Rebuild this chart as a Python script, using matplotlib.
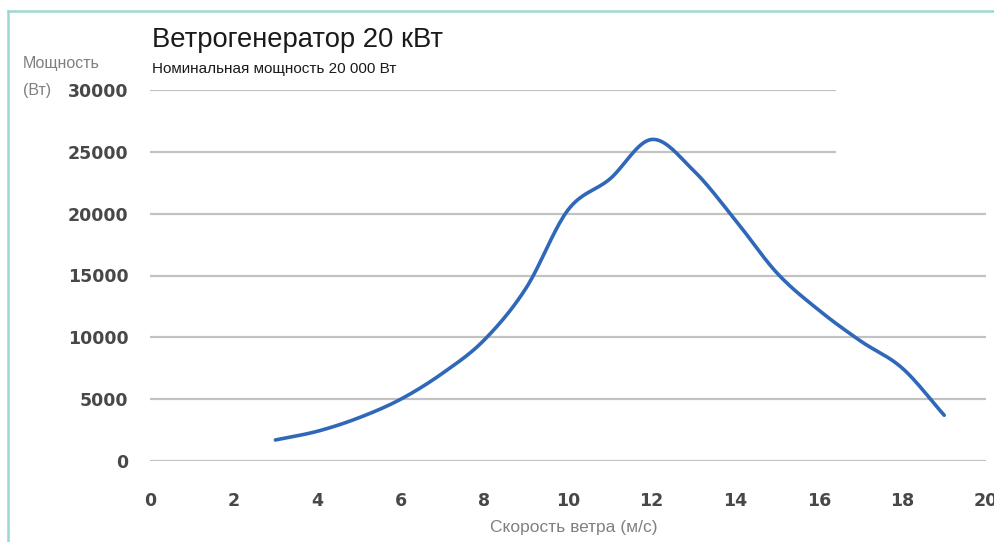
import numpy as np
import matplotlib
matplotlib.use("Agg")
import matplotlib.pyplot as plt
from matplotlib.lines import Line2D

# wind speed (m/s) and power (W)
wind_speed = [3, 4, 5, 6, 7, 8, 9, 10, 11, 12, 13, 14, 15, 16, 17, 18, 19]
power = [1700, 2400, 3500, 5000, 7100, 9800, 14000, 20300, 22800, 26000,
         23500, 19500, 15200, 12200, 9700, 7500, 3700]

y_ticks = [0, 5000, 10000, 15000, 20000, 25000, 30000]
x_ticks = [0, 2, 4, 6, 8, 10, 12, 14, 16, 18, 20]

title = "Ветрогенератор 20 кВт"
subtitle = "Номинальная мощность 20 000 Вт"
x_label = "Скорость ветра (м/с)"


def smooth(xs, ys, n=20):
    # catmull-rom like the excel "smoothed line" option
    xs = np.asarray(xs, float)
    ys = np.asarray(ys, float)
    px = np.concatenate([[2 * xs[0] - xs[1]], xs, [2 * xs[-1] - xs[-2]]])
    py = np.concatenate([[2 * ys[0] - ys[1]], ys, [2 * ys[-1] - ys[-2]]])
    out_x, out_y = [], []
    t = np.linspace(0, 1, n, endpoint=False)
    for i in range(1, len(px) - 2):
        for arr, out in ((px, out_x), (py, out_y)):
            p0, p1, p2, p3 = arr[i - 1], arr[i], arr[i + 1], arr[i + 2]
            out.extend(0.5 * (2 * p1 + (-p0 + p2) * t
                              + (2 * p0 - 5 * p1 + 4 * p2 - p3) * t ** 2
                              + (-p0 + 3 * p1 - 3 * p2 + p3) * t ** 3))
    out_x.append(xs[-1])
    out_y.append(ys[-1])
    return out_x, out_y


fig = plt.figure(figsize=(9.94, 5.42), dpi=100)
ax = fig.add_axes([150 / 994, 1 - 461 / 542, 836 / 994, 371 / 542])

grid_col = "#c2c2c2"
for yv in y_ticks:
    xend = 16.4 if yv >= 25000 else 20
    ax.plot([0, xend], [yv, yv], color=grid_col, lw=1.6, zorder=1,
            solid_capstyle="butt")

sx, sy = smooth(wind_speed, power)
ax.plot(sx, sy, color="#2f68b8", lw=2.6, zorder=3, solid_capstyle="round")

ax.set_xlim(0, 20)
ax.set_ylim(0, 30000)
ax.set_xticks(x_ticks)
ax.set_yticks(y_ticks)
for s in ax.spines.values():
    s.set_visible(False)
ax.tick_params(length=0, labelsize=12.5, labelcolor="#484848")
ax.tick_params(axis="x", pad=22)
ax.tick_params(axis="y", pad=15.5)
for lab in ax.get_xticklabels() + ax.get_yticklabels():
    lab.set_fontfamily("DejaVu Sans")
    lab.set_fontweight("bold")

sans = ["Liberation Sans", "DejaVu Sans"]
fig.text(152 / 994, 1 - 47 / 542, title, fontsize=19.7, color="#1a1a1a",
         family=sans, va="baseline")
fig.text(152 / 994, 1 - 73 / 542, subtitle, fontsize=11, color="#1a1a1a",
         family=sans, va="baseline")
fig.text(23 / 994, 1 - 68 / 542, "Мощность", fontsize=11.5, color="#808080",
         family=sans, va="baseline")
fig.text(23 / 994, 1 - 95 / 542, "(Вт)", fontsize=11.5, color="#808080",
         family=sans, va="baseline")
fig.text(574 / 994, 1 - 532 / 542, x_label, fontsize=12.5, color="#808080",
         family=sans, ha="center", va="baseline")

# thin teal frame on the top and left
border = "#9fd6d1"
fig.add_artist(Line2D([8 / 994, 1], [1 - 11 / 542] * 2, color=border, lw=1.8,
                      transform=fig.transFigure))
fig.add_artist(Line2D([8 / 994] * 2, [0, 1 - 11 / 542], color=border, lw=1.8,
                      transform=fig.transFigure))

fig.savefig("out.png", dpi=100)
